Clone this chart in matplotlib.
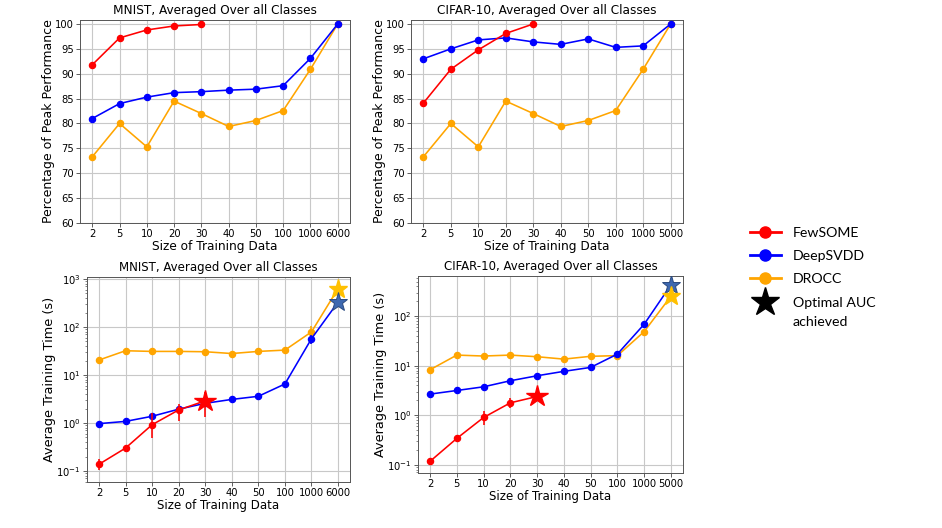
import matplotlib
matplotlib.use("Agg")
import matplotlib.pyplot as plt
from matplotlib.lines import Line2D
import numpy as np

# ---------------- data ----------------
x_mnist = ["2", "5", "10", "20", "30", "40", "50", "100", "1000", "6000"]
x_cifar = ["2", "5", "10", "20", "30", "40", "50", "100", "1000", "5000"]

# Percentage of peak performance
mnist_perf_fewsome = [91.8, 97.2, 98.8, 99.6, 99.9]
mnist_perf_deepsvdd = [81.0, 84.0, 85.3, 86.2, 86.4, 86.7, 86.9, 87.6, 93.1, 100.0]
mnist_perf_drocc = [73.3, 80.0, 75.3, 84.5, 82.0, 79.4, 80.6, 82.6, 90.9, 100.0]

cifar_perf_fewsome = [84.1, 90.9, 94.8, 98.1, 100.0]
cifar_perf_deepsvdd = [93.0, 95.0, 96.8, 97.2, 96.4, 95.9, 97.0, 95.3, 95.6, 100.0]
cifar_perf_drocc = [73.3, 80.0, 75.3, 84.5, 82.0, 79.4, 80.6, 82.6, 90.9, 100.0]

# Average training time (s)
mnist_time_fewsome = [0.138, 0.30, 0.92, 1.87, 2.9]
mnist_time_fewsome_lo = [0.035, 0.03, 0.43, 0.77, 1.54]
mnist_time_fewsome_hi = [0.038, 0.03, 0.68, 0.58, 1.6]
mnist_time_deepsvdd = [0.97, 1.08, 1.38, 1.94, 2.57, 3.1, 3.6, 6.5, 57, 330]
mnist_time_deepsvdd_err = [0.15, 0.08, 0.1, 0.1, 0.1, 0.1, 0.2, 0.5, 12, 20]
mnist_time_drocc = [20.5, 32, 31, 31, 30.5, 28, 31, 33, 79, 630]
mnist_time_drocc_lo = [1, 1.5, 1.5, 1.5, 1.5, 1.5, 1.5, 1.5, 35, 30]
mnist_time_drocc_hi = [1, 1.5, 1.5, 1.5, 1.5, 1.5, 1.5, 1.5, 28, 30]

cifar_time_fewsome = [0.117, 0.34, 0.90, 1.78, 2.39]
cifar_time_fewsome_lo = [0.005, 0.04, 0.28, 0.38, 0.1]
cifar_time_fewsome_hi = [0.005, 0.04, 0.34, 0.47, 0.1]
cifar_time_deepsvdd = [2.67, 3.16, 3.75, 4.97, 6.27, 7.7, 9.25, 17.2, 69, 430]
cifar_time_drocc = [8.3, 16.4, 15.7, 16.4, 15.2, 13.6, 15.5, 16.0, 49, 254]

legend_labels = ["FewSOME", "DeepSVDD", "DROCC", "Optimal AUC"]
legend_extra = "achieved"

RED = "#ff0000"
BLUE = "#0000ff"
ORANGE = "#ffa500"
STAR_BLUE = "#3d68b0"
STAR_GOLD = "#ffc000"

plt.rcParams["font.family"] = ["DejaVu Sans"]

fig = plt.figure(figsize=(9.42, 5.28), dpi=100)
W, H = 942, 528


def add_ax(l, t, r, b):
    return fig.add_axes([l / W, 1 - b / H, (r - l) / W, (b - t) / H])


ax1 = add_ax(80, 20, 350, 223)
ax2 = add_ax(411, 20, 683, 223)
ax3 = add_ax(87, 277, 350, 482)
ax4 = add_ax(418, 276, 683, 473)

lw = 1.15
ms = 4.4
star_ms = 14
TFS = 7.2


def style(ax, labels, title, ylabel, title_fs, xl_fs, yl_fs):
    ax.set_xticks(range(len(labels)))
    ax.set_xticklabels(labels)
    ax.grid(True, color="#c8c8c8", linewidth=0.8)
    ax.set_axisbelow(True)
    ax.tick_params(labelsize=TFS, color="#444444", length=2.6, width=0.6, pad=1.8)
    ax.tick_params(which="minor", color="#444444", length=1.6, width=0.45)
    for s in ax.spines.values():
        s.set_color("#555555")
        s.set_linewidth(0.7)
    ax.set_title(title, fontsize=title_fs, pad=4)
    ax.set_xlabel("Size of Training Data", fontsize=xl_fs, labelpad=0.8)
    ax.set_ylabel(ylabel, fontsize=yl_fs, labelpad=0.3)


# ---------- top row ----------
for ax, labels, few, dsv, dro, title in [
    (ax1, x_mnist, mnist_perf_fewsome, mnist_perf_deepsvdd, mnist_perf_drocc, "MNIST, Averaged Over all Classes"),
    (ax2, x_cifar, cifar_perf_fewsome, cifar_perf_deepsvdd, cifar_perf_drocc, "CIFAR-10, Averaged Over all Classes"),
]:
    ax.plot(range(len(few)), few, "-o", color=RED, lw=lw, ms=ms, zorder=4)
    ax.plot(range(len(dsv)), dsv, "-o", color=BLUE, lw=lw, ms=ms, zorder=3)
    ax.plot(range(len(dro)), dro, "-o", color=ORANGE, lw=lw, ms=ms, zorder=2)
    ax.set_ylim(60, 100.8)
    ax.set_yticks(np.arange(60, 101, 5))
    style(ax, labels, title, "Percentage of Peak Performance", 8.7, 8.7, 9.0)

# ---------- bottom-left ----------
ax = ax3
n = len(x_mnist)
ax.errorbar(range(n), mnist_time_drocc, yerr=[mnist_time_drocc_lo, mnist_time_drocc_hi],
            fmt="-o", color=ORANGE, lw=lw, ms=ms, zorder=2)
ax.errorbar(range(n), mnist_time_deepsvdd, yerr=mnist_time_deepsvdd_err, fmt="-o", color=BLUE, lw=lw, ms=ms, zorder=3)
ax.errorbar(range(len(mnist_time_fewsome)), mnist_time_fewsome,
            yerr=[mnist_time_fewsome_lo, mnist_time_fewsome_hi], fmt="-o", color=RED, lw=lw, ms=ms, zorder=4)
ax.plot([n - 1], [mnist_time_drocc[-1]], marker="*", ms=star_ms, color=STAR_GOLD, mec=STAR_GOLD, zorder=5)
ax.plot([n - 1], [mnist_time_deepsvdd[-1]], marker="*", ms=star_ms, color=STAR_BLUE, mec="#2a4a80", mew=0.7, zorder=6)
ax.plot([4], [mnist_time_fewsome[-1]], marker="*", ms=star_ms + 2, color=RED, mec=RED, zorder=6)
ax.set_yscale("log")
ax.set_ylim(0.059, 1100)
style(ax, x_mnist, "MNIST, Averaged Over all Classes", "Average Training Time (s)", 8.5, 8.5, 9.3)

# ---------- bottom-right ----------
ax = ax4
n = len(x_cifar)
ax.plot(range(n), cifar_time_drocc, "-o", color=ORANGE, lw=lw, ms=ms, zorder=2)
ax.plot(range(n), cifar_time_deepsvdd, "-o", color=BLUE, lw=lw, ms=ms, zorder=3)
ax.errorbar(range(len(cifar_time_fewsome)), cifar_time_fewsome,
            yerr=[cifar_time_fewsome_lo, cifar_time_fewsome_hi], fmt="-o", color=RED, lw=lw, ms=ms, zorder=4)
ax.plot([n - 1], [cifar_time_deepsvdd[-1]], marker="*", ms=star_ms, color=STAR_BLUE, mec="#2a4a80", mew=0.7, zorder=5)
ax.plot([n - 1], [cifar_time_drocc[-1]], marker="*", ms=star_ms, color=STAR_GOLD, mec=STAR_GOLD, zorder=6)
ax.plot([4], [cifar_time_fewsome[-1]], marker="*", ms=star_ms + 2, color=RED, mec=RED, zorder=6)
ax.set_yscale("log")
ax.set_ylim(0.068, 650)
style(ax, x_cifar, "CIFAR-10, Averaged Over all Classes", "Average Training Time (s)", 8.5, 8.5, 9.3)

# ---------- legend ----------
handles = [
    Line2D([], [], color=RED, marker="o", lw=2, ms=8),
    Line2D([], [], color=BLUE, marker="o", lw=2, ms=8),
    Line2D([], [], color=ORANGE, marker="o", lw=2, ms=8),
    Line2D([], [], color="black", marker="*", lw=0, ms=21),
]
leg = fig.legend(handles, legend_labels, loc="upper left", bbox_to_anchor=(744 / W, 1 - 221 / H),
                 frameon=False, prop={"family": "Lato", "size": 10.2}, handlelength=2.2,
                 labelspacing=0.8, handletextpad=0.85, borderaxespad=0)
fig.canvas.draw()
last = leg.get_texts()[-1]
bb = last.get_window_extent()
fig.text(bb.x0 / W, (bb.y0 - 19) / H, legend_extra, family="Lato", fontsize=10.2,
         ha="left", va="bottom")

fig.savefig("out.png", dpi=100)
